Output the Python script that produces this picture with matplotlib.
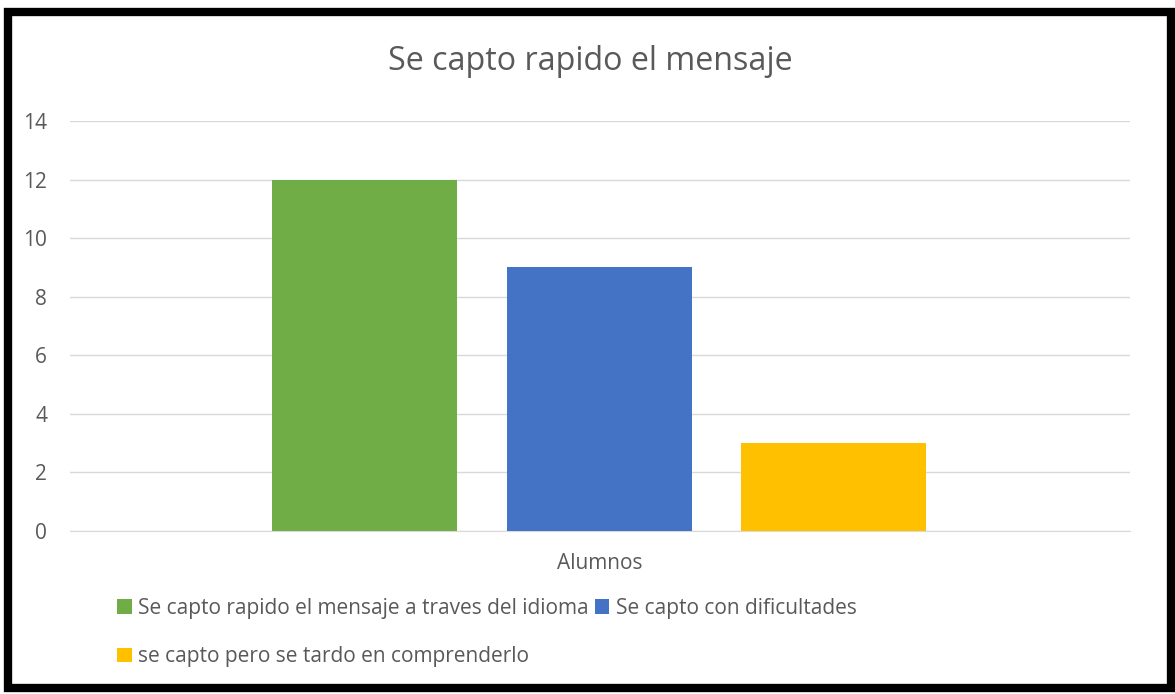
import matplotlib.pyplot as plt
import matplotlib.patches as mpatches
import numpy as np

plt.rcParams['font.family'] = ['Open Sans', 'DejaVu Sans']

# datos
titulo = "Se capto rapido el mensaje"
categoria = "Alumnos"
series = ["Se capto rapido el mensaje a traves del idioma",
          "Se capto con dificultades",
          "se capto pero se tardo en comprenderlo"]
valores = [12, 9, 3]
colores = ["#70ad47", "#4472c4", "#ffc000"]
yticks = [0, 2, 4, 6, 8, 10, 12, 14]

W, H = 1175, 694
fig = plt.figure(figsize=(W / 100, H / 100), dpi=100)
ax = fig.add_axes([70 / W, 1 - 531 / H, (1130 - 70) / W, (531 - 121) / H])

x = np.arange(len(valores))
barras = []
for i in range(len(valores)):
    b = ax.bar(x[i], valores[i], width=0.789, color=colores[i], label=series[i], zorder=3)
    barras.append(b)

ax.set_xlim(-1.256, 3.264)
ax.set_ylim(0, 14)
ax.set_yticks(yticks)
ax.set_xticks([1.003])
ax.set_xticklabels([categoria])
ax.tick_params(axis='both', length=0, labelsize=15, colors='#595959')
ax.tick_params(axis='y', pad=16.5)
ax.tick_params(axis='x', pad=16)
ax.grid(axis='y', color='#d9d9d9', linewidth=1, zorder=0)
for s in ['top', 'right', 'left']:
    ax.spines[s].set_visible(False)
ax.spines['bottom'].set_color('#d9d9d9')

fig.text(590 / W, 1 - 61 / H, titulo, ha='center', va='center', fontsize=23.2, color='#595959')

# leyenda: fila 1 verde, azul; fila 2 amarillo
handles = [barras[0], barras[2], barras[1]]
labels = [series[0], series[2], series[1]]
fig.legend(handles, labels, ncol=2, loc='upper left', bbox_to_anchor=(117 / W, 1 - 598 / H),
           frameon=False, fontsize=15, labelcolor='#595959', handlelength=0.7, handleheight=0.7,
           handletextpad=0.3, columnspacing=0.3, labelspacing=1.3, borderpad=0, borderaxespad=0)

# marco negro
fig.patches.append(mpatches.Rectangle((8 / W, 6 / H), (1171 - 8) / W, (685 - 9) / H,
                                      transform=fig.transFigure, fill=False,
                                      edgecolor='black', linewidth=6, zorder=10))

fig.savefig('out.png', dpi=100)
